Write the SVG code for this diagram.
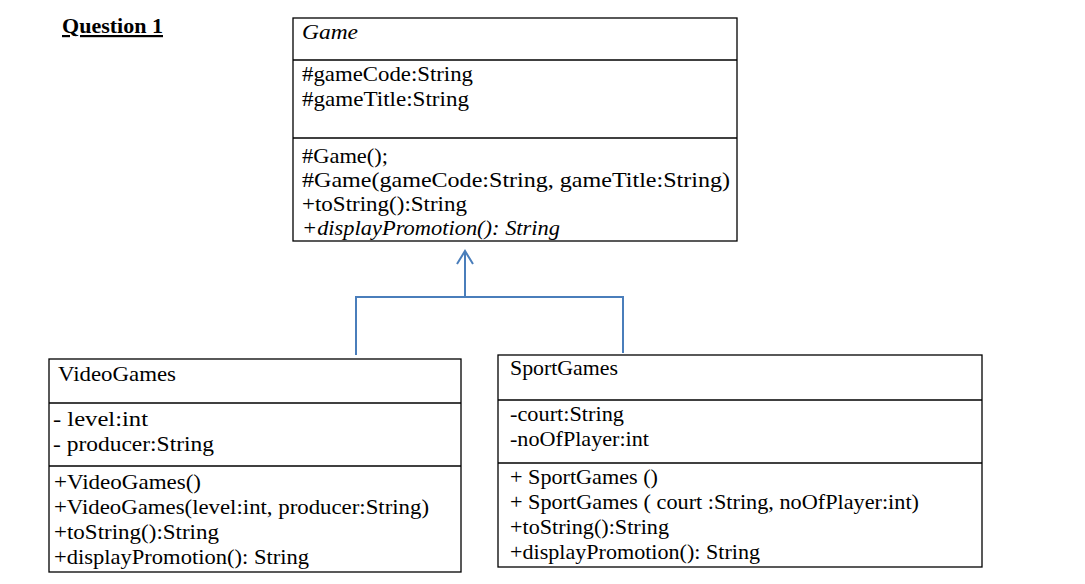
<svg xmlns="http://www.w3.org/2000/svg" width="1085" height="584" viewBox="0 0 1085 584">
<style>
.box{fill:#fff;stroke:#000;stroke-width:1.3}
.t{font-family:"Liberation Serif","Times New Roman",serif;font-size:22px;fill:#000}
.i{font-style:italic}
.conn{fill:none;stroke:#4a7ebb;stroke-width:2}
</style>
<rect width="1085" height="584" fill="#fff"/>
<text class="t" x="62" y="33" font-weight="bold" text-decoration="underline" textLength="101" lengthAdjust="spacingAndGlyphs">Question 1</text>
<g id="Game">
<rect class="box" x="293" y="18" width="444" height="223"/>
<line class="box" x1="293" y1="60" x2="737" y2="60"/>
<line class="box" x1="293" y1="138" x2="737" y2="138"/>
<text class="t i" x="302" y="39" textLength="56" lengthAdjust="spacingAndGlyphs">Game</text>
<text class="t" x="302" y="81" textLength="171" lengthAdjust="spacingAndGlyphs">#gameCode:String</text>
<text class="t" x="302" y="106" textLength="167" lengthAdjust="spacingAndGlyphs">#gameTitle:String</text>
<text class="t" x="302" y="163" textLength="86" lengthAdjust="spacingAndGlyphs">#Game();</text>
<text class="t" x="302" y="187" textLength="428" lengthAdjust="spacingAndGlyphs">#Game(gameCode:String, gameTitle:String)</text>
<text class="t" x="302" y="211" textLength="165" lengthAdjust="spacingAndGlyphs">+toString():String</text>
<text class="t i" x="302" y="235" textLength="258" lengthAdjust="spacingAndGlyphs">+displayPromotion(): String</text>
</g>
<g id="VideoGames">
<rect class="box" x="49" y="359" width="412" height="213"/>
<line class="box" x1="49" y1="403" x2="461" y2="403"/>
<line class="box" x1="49" y1="466" x2="461" y2="466"/>
<text class="t" x="58" y="381" textLength="118" lengthAdjust="spacingAndGlyphs">VideoGames</text>
<text class="t" x="53" y="426" textLength="95" lengthAdjust="spacingAndGlyphs">- level:int</text>
<text class="t" x="53" y="451" textLength="161" lengthAdjust="spacingAndGlyphs">- producer:String</text>
<text class="t" x="54" y="489" textLength="147" lengthAdjust="spacingAndGlyphs">+VideoGames()</text>
<text class="t" x="54" y="514" textLength="375" lengthAdjust="spacingAndGlyphs">+VideoGames(level:int, producer:String)</text>
<text class="t" x="54" y="539" textLength="165" lengthAdjust="spacingAndGlyphs">+toString():String</text>
<text class="t" x="54" y="564" textLength="255" lengthAdjust="spacingAndGlyphs">+displayPromotion(): String</text>
</g>
<g id="SportGames">
<rect class="box" x="498" y="355" width="484" height="212"/>
<line class="box" x1="498" y1="400" x2="982" y2="400"/>
<line class="box" x1="498" y1="463" x2="982" y2="463"/>
<text class="t" x="510" y="375" textLength="108" lengthAdjust="spacingAndGlyphs">SportGames</text>
<text class="t" x="510" y="421" textLength="114" lengthAdjust="spacingAndGlyphs">-court:String</text>
<text class="t" x="510" y="446" textLength="139" lengthAdjust="spacingAndGlyphs">-noOfPlayer:int</text>
<text class="t" x="510" y="484" textLength="148" lengthAdjust="spacingAndGlyphs">+ SportGames ()</text>
<text class="t" x="510" y="509" textLength="409" lengthAdjust="spacingAndGlyphs">+ SportGames ( court :String, noOfPlayer:int)</text>
<text class="t" x="510" y="534" textLength="159" lengthAdjust="spacingAndGlyphs">+toString():String</text>
<text class="t" x="510" y="559" textLength="250" lengthAdjust="spacingAndGlyphs">+displayPromotion(): String</text>
</g>
<g id="connectors">
<path class="conn" d="M356 355 V297 H623 V353"/>
<path class="conn" d="M465 297 V251"/>
<path class="conn" d="M457 264 L465 251 L473 264"/>
</g>
</svg>
